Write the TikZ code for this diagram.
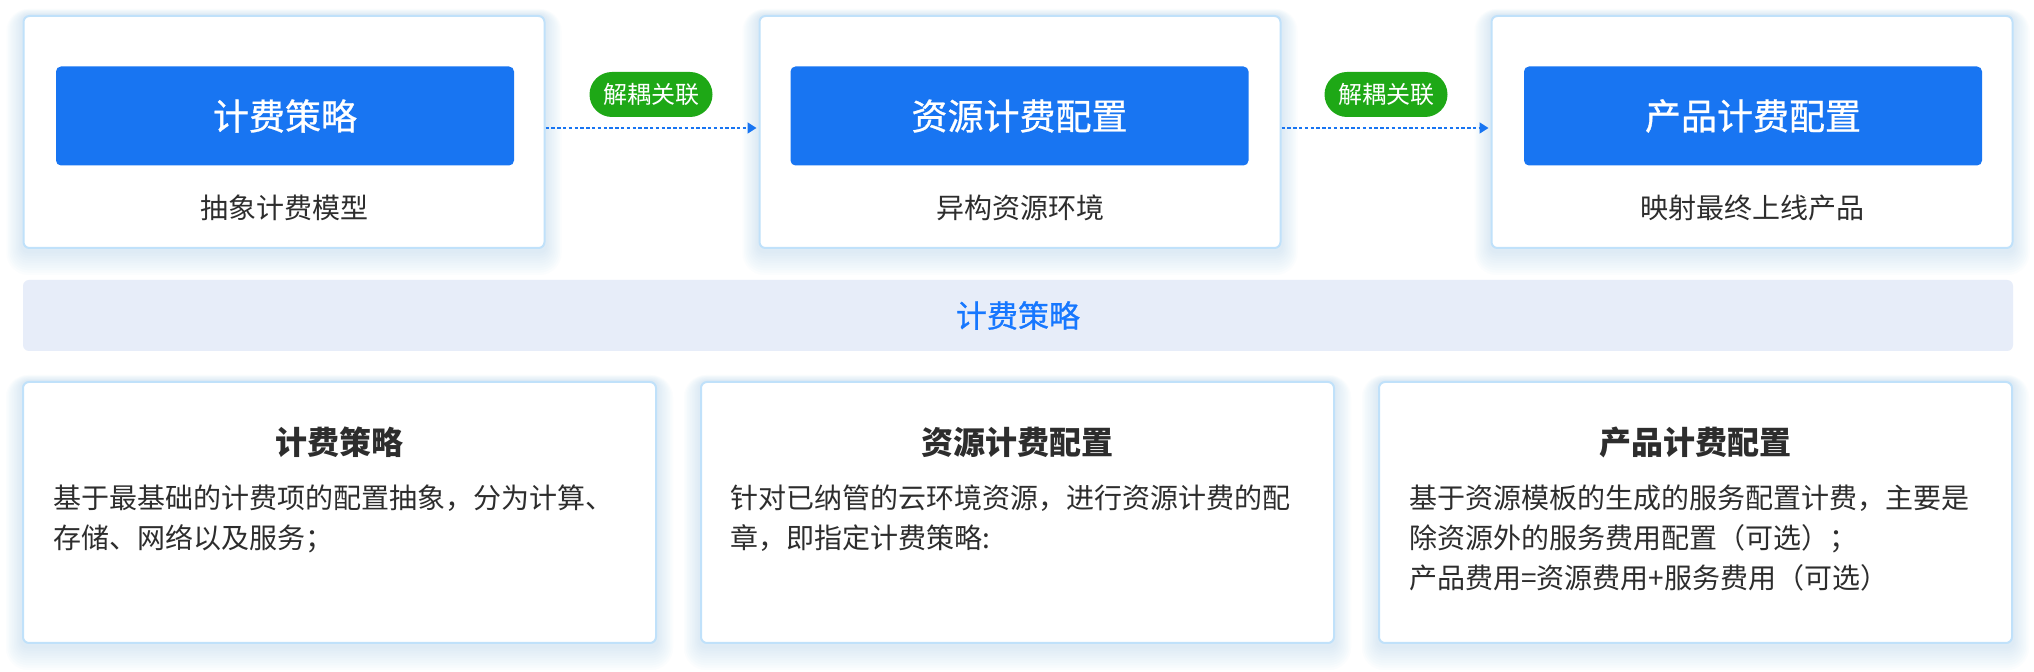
\documentclass[tikz,border=0pt]{standalone}
\usepackage{fontspec}
\setmainfont{Noto Sans CJK SC}
\newfontfamily\medfont{Noto Sans CJK SC}[FakeBold=0.8]
\usetikzlibrary{arrows.meta}
\definecolor{boxborder}{RGB}{192,225,250}
\definecolor{mainblue}{RGB}{24,117,242}
\definecolor{pillgreen}{RGB}{30,168,22}
\definecolor{bandbg}{RGB}{231,237,249}
\definecolor{bandtext}{RGB}{22,119,255}
\definecolor{darktext}{RGB}{45,45,45}
\definecolor{glowcol}{RGB}{150,195,245}
\tikzset{
  outerbox/.style={draw=boxborder, line width=1pt, fill=white, rounded corners=3pt},
  topbox/.style={outerbox, minimum width=260.5pt, minimum height=116pt, inner sep=0pt},
  botbox/.style={outerbox, minimum width=316.5pt, minimum height=130.5pt, inner sep=0pt},
  bluebox/.style={fill=mainblue, rounded corners=2.5pt, minimum width=229pt,
    minimum height=49.5pt, inner sep=0pt, text=white, font=\fontsize{18}{20}\medfont},
  subtitle/.style={text=darktext, inner sep=0pt, font=\fontsize{14}{16}\selectfont},
  pill/.style={fill=pillgreen, rounded corners=11.25pt, minimum width=61.5pt,
    minimum height=22.5pt, inner sep=0pt, text=white, font=\fontsize{12}{14}\selectfont},
  dotarrow/.style={draw=mainblue, line width=0.8pt, dash pattern=on 1.7pt off 1.2pt,
    -{Triangle[length=4.5pt,width=5.5pt]}, shorten >=1pt},
  band/.style={fill=bandbg, rounded corners=3pt, minimum width=995pt, minimum height=35.5pt,
    inner sep=0pt, text=bandtext, font=\fontsize{15.5}{17}\medfont},
  bottitle/.style={text=darktext, inner sep=0pt, font=\fontsize{16}{18}\selectfont\bfseries},
  bodyline/.style={text=darktext, inner sep=0pt, anchor=west, text height=11.6pt,
    text depth=1pt, font=\fontsize{14}{16}\selectfont},
  glowlayer/.style={fill=glowcol, fill opacity=0.03},
}
\newcommand\boxglow[1]{%
  \foreach \i in {1,...,10} {%
    \fill[glowlayer, rounded corners=3pt+0.8*\i pt]
      ([shift={(-0.8*\i pt,0.3*\i pt)}]#1.north west) rectangle
      ([shift={(0.8*\i pt,-1.2*\i pt-1pt)}]#1.south east);
  }%
}
\begin{document}
\begin{tikzpicture}[x=0.5pt,y=-0.5pt]
\useasboundingbox[fill=white] (0,0) rectangle (2034,672);
% box positions (used first for the glow)
\path (284,132) coordinate (t1c) (1020,132) coordinate (t2c) (1752,132) coordinate (t3c);
\path (339.5,512.5) coordinate (c1c) (1017.5,512.5) coordinate (c2c) (1695.5,512.5) coordinate (c3c);
\path node[topbox, draw=none, fill=none] (g1) at (t1c) {}
      node[topbox, draw=none, fill=none] (g2) at (t2c) {}
      node[topbox, draw=none, fill=none] (g3) at (t3c) {}
      node[botbox, draw=none, fill=none] (g4) at (c1c) {}
      node[botbox, draw=none, fill=none] (g5) at (c2c) {}
      node[botbox, draw=none, fill=none] (g6) at (c3c) {};
\boxglow{g1}\boxglow{g2}\boxglow{g3}\boxglow{g4}\boxglow{g5}\boxglow{g6}
% top row
\node[topbox] (t1) at (t1c) {};
\node[topbox] (t2) at (t2c) {};
\node[topbox] (t3) at (t3c) {};
\node[bluebox] (b1) at (285,116) {计费策略};
\node[bluebox] (b2) at (1019.5,116) {资源计费配置};
\node[bluebox] (b3) at (1753,116) {产品计费配置};
\node[subtitle] (s1) at (284,208) {抽象计费模型};
\node[subtitle] (s2) at (1020,208) {异构资源环境};
\node[subtitle] (s3) at (1752,208) {映射最终上线产品};
% connectors
\draw[dotarrow] (t1.east |- 0,128) -- (t2.west |- 0,128);
\draw[dotarrow] (t2.east |- 0,128) -- (t3.west |- 0,128);
\node[pill] (p1) at (651,94.5) {解耦关联};
\node[pill] (p2) at (1386,94.5) {解耦关联};
% band
\node[band] (band) at (1018,315.5) {计费策略};
% bottom row
\node[botbox] (c1) at (c1c) {};
\node[botbox] (c2) at (c2c) {};
\node[botbox] (c3) at (c3c) {};
\node[bottitle] (h1) at (339.5,442) {计费策略};
\node[bottitle] (h2) at (1017.5,442) {资源计费配置};
\node[bottitle] (h3) at (1695.5,442) {产品计费配置};
\node[bodyline] (l11) at (53,498) {基于最基础的计费项的配置抽象，分为计算、};
\node[bodyline] (l12) at (53,538) {存储、网络以及服务；};
\node[bodyline] (l21) at (730,498) {针对已纳管的云环境资源，进行资源计费的配};
\node[bodyline] (l22) at (730,538) {章，即指定计费策略:};
\node[bodyline] (l31) at (1409,498) {基于资源模板的生成的服务配置计费，主要是};
\node[bodyline] (l32) at (1409,538) {除资源外的服务费用配置（可选）；};
\node[bodyline] (l33) at (1409,578) {产品费用=资源费用+服务费用（可选）};
\end{tikzpicture}
\end{document}
